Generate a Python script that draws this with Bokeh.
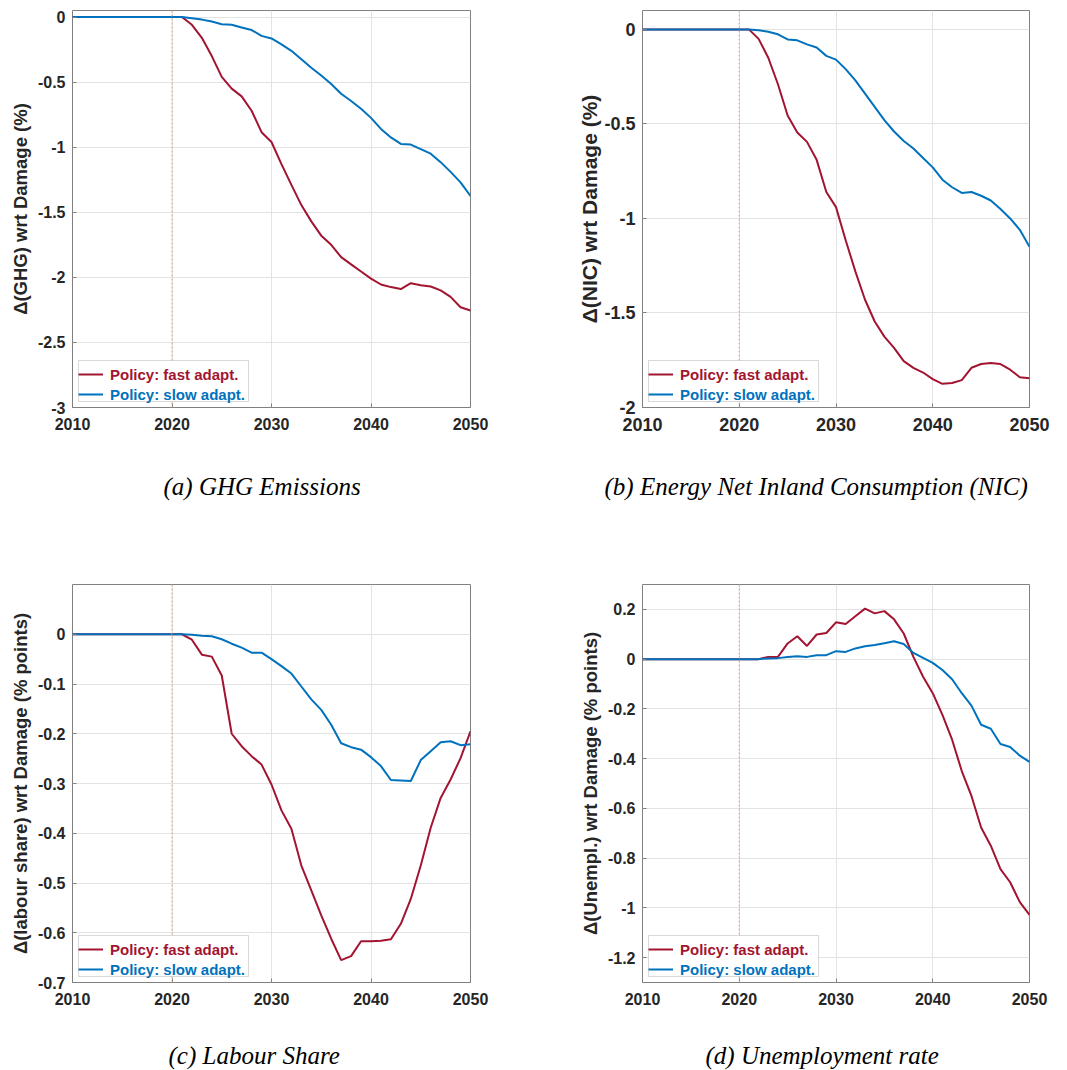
from bokeh.plotting import figure
from bokeh.models import (Range1d, FixedTicker, CustomJSTickFormatter, Legend,
                          LegendItem, Span, BoxAnnotation, Node, Title)
from bokeh.layouts import column, row
from bokeh.embed import file_html
from bokeh.resources import INLINE

# ---------------- data ----------------
years = list(range(2010, 2051))
flat = [0.0] * 12  # 2010..2021: no difference before the policy takes effect

ghg_fast = flat + [-0.06, -0.16, -0.30, -0.46, -0.55, -0.61, -0.72, -0.885, -0.96, -1.13,
                   -1.29, -1.445, -1.57, -1.68, -1.75, -1.845, -1.90, -1.955, -2.01, -2.055,
                   -2.075, -2.09, -2.045, -2.06, -2.07, -2.10, -2.15, -2.23, -2.255]
ghg_slow = flat + [-0.01, -0.02, -0.035, -0.055, -0.06, -0.08, -0.10, -0.145, -0.165, -0.21,
                   -0.26, -0.325, -0.39, -0.45, -0.515, -0.59, -0.645, -0.705, -0.775, -0.86,
                   -0.925, -0.975, -0.98, -1.015, -1.05, -1.115, -1.19, -1.27, -1.375]

nic_fast = flat + [-0.05, -0.15, -0.29, -0.455, -0.545, -0.595, -0.69, -0.86, -0.94, -1.115,
                   -1.28, -1.43, -1.545, -1.625, -1.685, -1.755, -1.79, -1.815, -1.85, -1.875,
                   -1.87, -1.855, -1.79, -1.77, -1.765, -1.77, -1.80, -1.84, -1.845]
nic_slow = flat + [-0.005, -0.012, -0.026, -0.053, -0.058, -0.079, -0.096, -0.14, -0.16, -0.21,
                   -0.27, -0.34, -0.41, -0.48, -0.54, -0.59, -0.63, -0.68, -0.73, -0.795,
                   -0.835, -0.865, -0.86, -0.88, -0.905, -0.95, -1.0, -1.06, -1.15]

lab_fast = flat + [-0.011, -0.041, -0.045, -0.083, -0.20, -0.225, -0.245, -0.262, -0.302, -0.354,
                   -0.391, -0.465, -0.515, -0.565, -0.612, -0.655, -0.647, -0.617, -0.617, -0.616,
                   -0.613, -0.582, -0.532, -0.465, -0.389, -0.329, -0.292, -0.249, -0.195]
lab_slow = flat + [-0.001, -0.003, -0.004, -0.010, -0.019, -0.027, -0.037, -0.037, -0.05, -0.064,
                   -0.079, -0.105, -0.131, -0.152, -0.182, -0.219, -0.227, -0.232, -0.247, -0.265,
                   -0.293, -0.294, -0.295, -0.253, -0.235, -0.217, -0.215, -0.223, -0.221]

une_fast = flat + [0.0, 0.009, 0.009, 0.063, 0.092, 0.053, 0.099, 0.105, 0.148, 0.141,
                   0.172, 0.203, 0.184, 0.193, 0.16, 0.103, 0.009, -0.071, -0.137, -0.224,
                   -0.324, -0.45, -0.55, -0.677, -0.75, -0.844, -0.897, -0.977, -1.028]
une_slow = flat + [0.0, 0.003, 0.004, 0.009, 0.012, 0.009, 0.016, 0.016, 0.032, 0.029,
                   0.043, 0.052, 0.057, 0.064, 0.072, 0.061, 0.025, 0.005, -0.015, -0.044,
                   -0.081, -0.137, -0.187, -0.264, -0.28, -0.341, -0.353, -0.388, -0.413]

policy_year = 2020
x_ticks = [2010, 2020, 2030, 2040, 2050]
x_labels = ["2010", "2020", "2030", "2040", "2050"]

ghg_ticks = [-3, -2.5, -2, -1.5, -1, -0.5, 0]
ghg_labels = ["-3", "-2.5", "-2", "-1.5", "-1", "-0.5", "0"]
nic_ticks = [-2, -1.5, -1, -0.5, 0]
nic_labels = ["-2", "-1.5", "-1", "-0.5", "0"]
lab_ticks = [-0.7, -0.6, -0.5, -0.4, -0.3, -0.2, -0.1, 0]
lab_labels = ["-0.7", "-0.6", "-0.5", "-0.4", "-0.3", "-0.2", "-0.1", "0"]
une_ticks = [-1.2, -1, -0.8, -0.6, -0.4, -0.2, 0, 0.2]
une_labels = ["-1.2", "-1", "-0.8", "-0.6", "-0.4", "-0.2", "0", "0.2"]

series_names = ["Policy: fast adapt.", "Policy: slow adapt."]

# ---------------- style ----------------
RED = "#A2142F"
BLUE = "#0072BD"
GRAY = "#808080"
TXT = "#262626"
FONT = "Liberation Sans"
SERIF = "Liberation Serif"


def fmt(tvals, tlabs):
    return CustomJSTickFormatter(args=dict(tvals=tvals, tlabs=tlabs), code="""
        for (let i = 0; i < tvals.length; i++) {
            if (Math.abs(tvals[i] - tick) < 1e-9) return tlabs[i];
        }
        return "";
    """)


def panel(fast, slow, yr, yticks, ylabels, ylab, caption, fw, fh,
          bl, br, bt, bb, tick_fs, lab_fs, lab_standoff, cap_offset, cap_standoff):
    p = figure(frame_width=fw, frame_height=fh,
               x_range=Range1d(2010, 2050), y_range=Range1d(*yr),
               output_backend="svg", toolbar_location=None,
               min_border_left=bl, min_border_right=br,
               min_border_top=bt, min_border_bottom=bb,
               background_fill_color="white", border_fill_color="white")
    p.outline_line_color = GRAY
    p.outline_line_width = 1

    xt = FixedTicker(ticks=x_ticks)
    yt = FixedTicker(ticks=yticks)

    xa = p.xaxis[0]
    xa.ticker = xt
    xa.formatter = fmt(x_ticks, x_labels)
    ya = p.yaxis[0]
    ya.ticker = yt
    ya.formatter = fmt(yticks, ylabels)
    for ax in (xa, ya):
        ax.axis_line_color = None
        ax.major_tick_in = 4
        ax.major_tick_out = 0
        ax.major_tick_line_color = GRAY
        ax.minor_tick_line_color = None
        ax.major_label_text_font = FONT
        ax.major_label_text_font_style = "bold"
        ax.major_label_text_font_size = tick_fs
        ax.major_label_text_color = TXT
    ya.major_label_standoff = 7
    xa.major_label_standoff = 10

    ya.axis_label = ylab
    ya.axis_label_text_font = FONT
    ya.axis_label_text_font_style = "bold"
    ya.axis_label_text_font_size = lab_fs
    ya.axis_label_text_color = TXT
    ya.axis_label_standoff = lab_standoff

    cap = Title(text=caption, align="left", offset=cap_offset, standoff=cap_standoff,
                text_font=SERIF, text_font_style="italic", text_font_size="25px",
                text_color="black")
    p.add_layout(cap, "below")

    p.xgrid.ticker = xt
    p.ygrid.ticker = yt
    p.xgrid.grid_line_color = "#e3e3e3"
    p.ygrid.grid_line_color = "#e3e3e3"

    p.add_layout(Span(location=policy_year, dimension="height", line_color="#D9A57F",
                      line_dash="2 2", line_width=1))

    r1 = p.line(years, fast, line_color=RED, line_width=2)
    r2 = p.line(years, slow, line_color=BLUE, line_width=2)

    box = BoxAnnotation(left=Node(target="frame", symbol="left", offset=6),
                        right=Node(target="frame", symbol="left", offset=176),
                        top=Node(target="frame", symbol="bottom", offset=-47),
                        bottom=Node(target="frame", symbol="bottom", offset=-6),
                        fill_color="white", fill_alpha=1.0,
                        line_color=GRAY, line_width=1)
    p.add_layout(box)

    for rend, name, col, yoff in ((r1, series_names[0], RED, 24), (r2, series_names[1], BLUE, 4)):
        lg = Legend(items=[LegendItem(label=name, renderers=[rend])],
                    location=(6, yoff), margin=0, padding=2, spacing=0,
                    glyph_width=25, glyph_height=18, label_height=18, label_standoff=7,
                    label_text_font=FONT, label_text_font_style="bold",
                    label_text_font_size="15px", label_text_color=col,
                    background_fill_alpha=0.0, border_line_color=None)
        p.add_layout(lg)
    return p


pa = panel(ghg_fast, ghg_slow, (-3, 0.05), ghg_ticks, ghg_labels,
           "\u0394(GHG) wrt Damage (%)", "(a) GHG Emissions",
           398, 397, 72, 50, 10, 163, "16px", "18.5px", 4, 91, 76)
pb = panel(nic_fast, nic_slow, (-2, 0.1), nic_ticks, nic_labels,
           "\u0394(NIC) wrt Damage (%)", "(b) Energy Net Inland Consumption (NIC)",
           387, 397, 122, 34, 10, 163, "18px", "21px", 0, -38, 74)
pc = panel(lab_fast, lab_slow, (-0.7, 0.1), lab_ticks, lab_labels,
           "\u0394(labour share) wrt Damage (% points)", "(c) Labour Share",
           398, 398, 72, 50, 14, 86, "16px", "18.5px", 4, 96, 64)
pd = panel(une_fast, une_slow, (-1.3, 0.3), une_ticks, une_labels,
           "\u0394(Unempl.) wrt Damage (% points)", "(d) Unemployment rate",
           387, 398, 122, 34, 14, 86, "16px", "18.5px", 4, 63, 64)

lay = column(row(pa, pb), row(pc, pd))
open("out.html", "w").write(file_html(lay, INLINE))
